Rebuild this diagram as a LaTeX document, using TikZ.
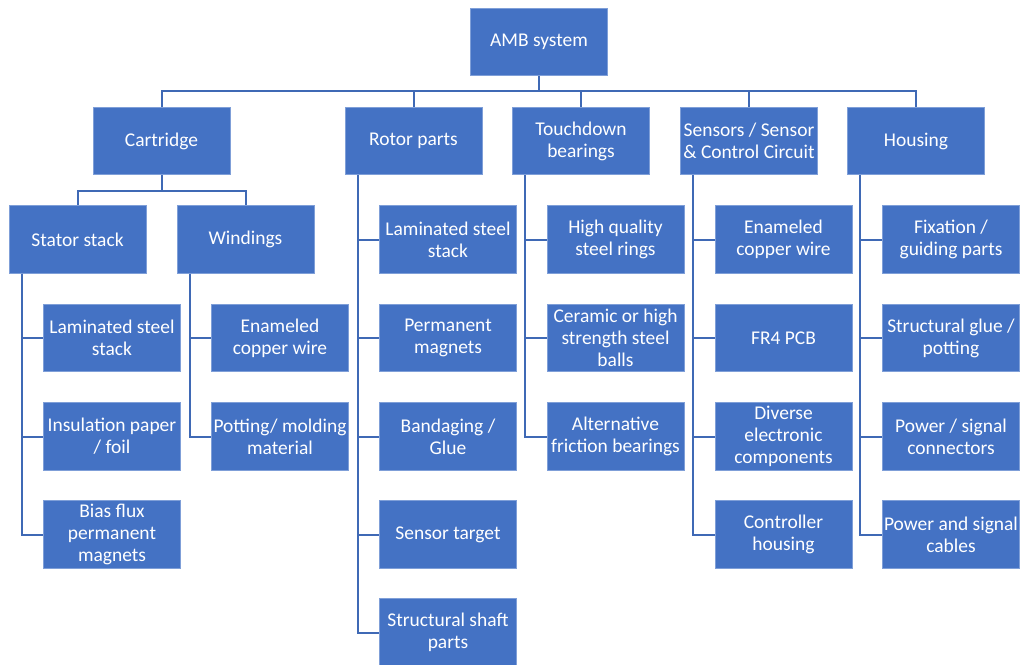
\documentclass[tikz,border=0pt]{standalone}
\usepackage{fontspec}
\setmainfont{Carlito}
\usepackage{tikz}

\definecolor{boxblue}{HTML}{4472C4}
\definecolor{boxedge}{HTML}{7F9FD8}
\definecolor{linkblue}{HTML}{3F69B5}

\tikzset{
	part/.style={rectangle, fill=boxblue, draw=boxedge, line width=0.6pt, text=white,
		minimum width=102.75pt, minimum height=50.5pt, inner xsep=0pt, inner ysep=1pt,
		align=center, font=\fontsize{14.6}{16.6}\selectfont},
	link/.style={draw=linkblue, line width=1.5pt}
}

\begin{document}
\begin{tikzpicture}[x=0.75pt, y=-0.75pt]

	\useasboundingbox (0,0) rectangle (1020,664);

	% top of the tree

	\node[part] (amb) at (539,42) {AMB system};

	\node[part] (cart)  at (161.5,141) {Cartridge};
	\node[part] (rotor) at (413.5,141) {Rotor parts};
	\node[part] (touch) at (581,141)   {Touchdown\\bearings};
	\node[part] (sens)  at (749,141)   {Sensors / Sensor\\\& Control Circuit};
	\node[part] (hous)  at (916,141)   {Housing};

	\coordinate (bus) at (539,91);
	\draw[link] (amb.south) -- (bus);
	\draw[link] (bus) -| (cart.north);
	\draw[link] (bus) -| (rotor.north);
	\draw[link] (bus) -| (touch.north);
	\draw[link] (bus) -| (sens.north);
	\draw[link] (bus) -| (hous.north);

	% cartridge

	\node[part] (stat) at (77.5,239.5)  {Stator stack};
	\node[part] (wind) at (245.5,239.5) {Windings};

	\coordinate (cbus) at (161.5,191);
	\draw[link] (cart.south) -- (cbus);
	\draw[link] (cbus) -| (stat.north);
	\draw[link] (cbus) -| (wind.north);

	\node[part] (stat1) at (112,338)   {Laminated steel\\stack};
	\node[part] (stat2) at (112,436.5) {Insulation paper\\/ foil};
	\node[part] (stat3) at (112,534.5) {Bias flux\\permanent\\magnets};

	\draw[link] (stat.south west) ++(13,0) |- (stat1.west);
	\draw[link] (stat.south west) ++(13,0) |- (stat2.west);
	\draw[link] (stat.south west) ++(13,0) |- (stat3.west);

	\node[part] (wind1) at (280,338)   {Enameled\\copper wire};
	\node[part] (wind2) at (280,436.5) {Potting/ molding\\material};

	\draw[link] (wind.south west) ++(13,0) |- (wind1.west);
	\draw[link] (wind.south west) ++(13,0) |- (wind2.west);

	% rotor parts

	\node[part] (rotor1) at (448,239.5) {Laminated steel\\stack};
	\node[part] (rotor2) at (448,338)   {Permanent\\magnets};
	\node[part] (rotor3) at (448,436.5) {Bandaging /\\Glue};
	\node[part] (rotor4) at (448,534.5) {Sensor target};
	\node[part] (rotor5) at (448,632.5) {Structural shaft\\parts};

	\draw[link] (rotor.south west) ++(13,0) |- (rotor1.west);
	\draw[link] (rotor.south west) ++(13,0) |- (rotor2.west);
	\draw[link] (rotor.south west) ++(13,0) |- (rotor3.west);
	\draw[link] (rotor.south west) ++(13,0) |- (rotor4.west);
	\draw[link] (rotor.south west) ++(13,0) |- (rotor5.west);

	% touchdown bearings

	\node[part] (touch1) at (615.5,239.5) {High quality\\steel rings};
	\node[part] (touch2) at (615.5,338)   {Ceramic or high\\strength steel\\balls};
	\node[part] (touch3) at (615.5,436.5) {Alternative\\friction bearings};

	\draw[link] (touch.south west) ++(13,0) |- (touch1.west);
	\draw[link] (touch.south west) ++(13,0) |- (touch2.west);
	\draw[link] (touch.south west) ++(13,0) |- (touch3.west);

	% sensors and control circuit

	\node[part] (sens1) at (783.5,239.5) {Enameled\\copper wire};
	\node[part] (sens2) at (783.5,338)   {FR4 PCB};
	\node[part] (sens3) at (783.5,436.5) {Diverse\\electronic\\components};
	\node[part] (sens4) at (783.5,534.5) {Controller\\housing};

	\draw[link] (sens.south west) ++(13,0) |- (sens1.west);
	\draw[link] (sens.south west) ++(13,0) |- (sens2.west);
	\draw[link] (sens.south west) ++(13,0) |- (sens3.west);
	\draw[link] (sens.south west) ++(13,0) |- (sens4.west);

	% housing

	\node[part] (hous1) at (951,239.5) {Fixation /\\guiding parts};
	\node[part] (hous2) at (951,338)   {Structural glue /\\potting};
	\node[part] (hous3) at (951,436.5) {Power / signal\\connectors};
	\node[part] (hous4) at (951,534.5) {Power and signal\\cables};

	\draw[link] (hous.south west) ++(13,0) |- (hous1.west);
	\draw[link] (hous.south west) ++(13,0) |- (hous2.west);
	\draw[link] (hous.south west) ++(13,0) |- (hous3.west);
	\draw[link] (hous.south west) ++(13,0) |- (hous4.west);

\end{tikzpicture}
\end{document}
